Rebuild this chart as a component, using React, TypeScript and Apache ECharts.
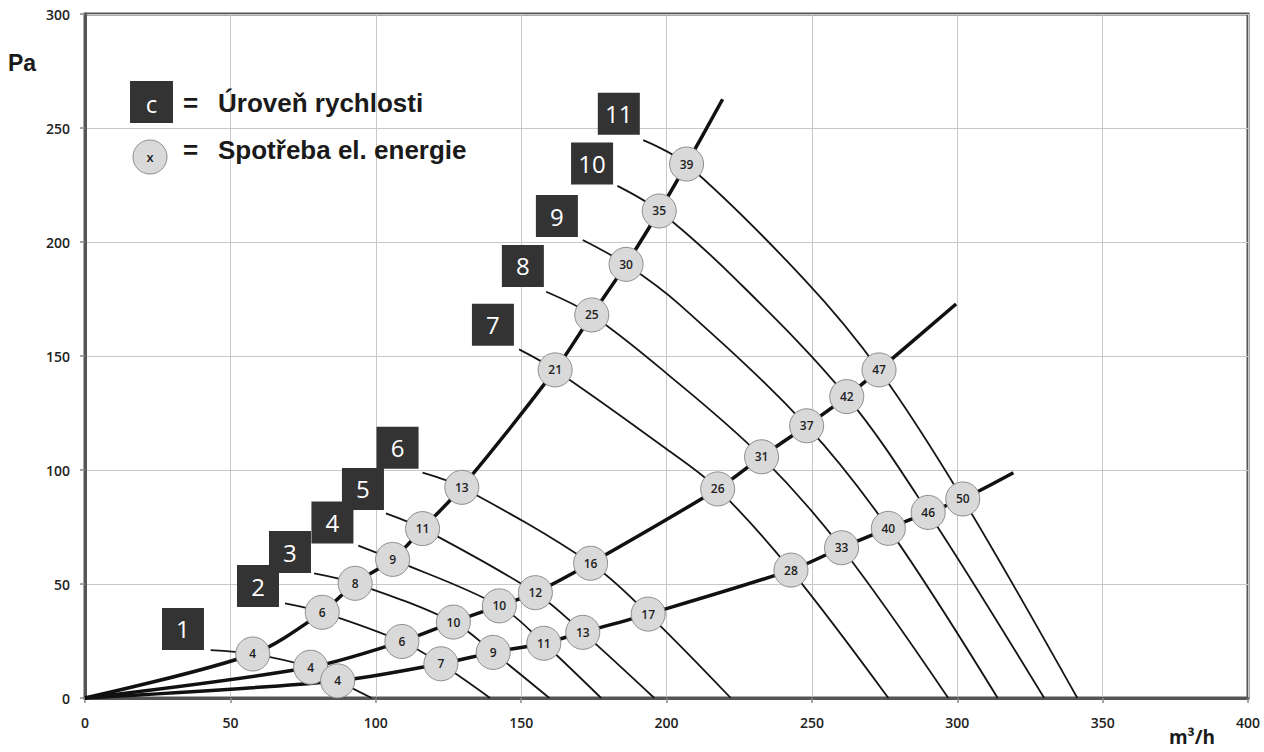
import React, { useEffect, useRef } from "react";
import * as echarts from "echarts";

// Speed levels (labels of the dark boxes)
const levels = ["1", "2", "3", "4", "5", "6", "7", "8", "9", "10", "11"];

// System curve A (steepest)
const flowA = [57.7, 81.6, 92.9, 105.8, 116.1, 129.6, 161.7, 174.3, 186.1, 197.5, 206.9];
const presA = [19.3, 37.6, 50.3, 60.8, 74.3, 92.4, 143.9, 168.0, 190.2, 213.6, 234.2];
const powerA = [4, 6, 8, 9, 11, 13, 21, 25, 30, 35, 39];
const endA = [219.3, 262.6];

// System curve B (middle)
const flowB = [77.6, 109.0, 126.7, 142.5, 154.9, 173.9, 217.6, 232.7, 248.2, 262.0, 273.1];
const presB = [13.5, 24.8, 33.3, 40.4, 46.2, 59.1, 91.7, 105.8, 119.4, 132.2, 143.9];
const powerB = [4, 6, 10, 10, 12, 16, 26, 31, 37, 42, 47];
const endB = [299.6, 172.8];

// System curve C (flattest)
const flowC = [86.9, 122.4, 140.4, 157.8, 171.2, 193.7, 242.8, 260.2, 276.3, 290.0, 301.9];
const presC = [7.5, 15.0, 20.0, 24.0, 28.8, 36.8, 56.1, 65.9, 74.4, 81.4, 87.3];
const powerC = [4, 7, 9, 11, 13, 17, 28, 33, 40, 46, 50];
const endC = [319.3, 98.8];

// Fan curves per level: start of leader line, extra read point between A and B, zero-pressure flow
const leadFlow = [43.2, 68.8, 78.8, 94.0, 103.5, 116.1, 149.3, 158.6, 171.2, 183.1, 192.0];
const leadPres = [21.0, 41.5, 54.7, 66.8, 81.0, 98.8, 152.9, 178.2, 200.9, 224.6, 244.7];
const midFlow: (number | null)[] = [null, null, null, null, null, null, 200.0, 200.0, 204.6, 224.1, 247.6];
const midPres: (number | null)[] = [null, null, null, null, null, null, 109.2, 142.4, 172.4, 183.3, 183.3];
const zeroFlow = [98.6, 139.3, 159.7, 177.5, 195.8, 222.1, 276.3, 296.9, 313.9, 329.9, 341.3];

// Level box positions
const boxFlow = [33.7, 59.5, 70.5, 85.1, 95.6, 107.5, 140.3, 150.6, 162.3, 174.4, 183.6];
const boxPres = [30.3, 49.1, 64.0, 77.0, 91.7, 109.8, 163.7, 189.5, 211.4, 234.4, 256.2];

const xTicks = { min: 0, max: 400, interval: 50 };
const yTicks = { min: 0, max: 300, interval: 50 };

function buildOption() {
  const levelSeries = levels.map((lv, i) => {
    const pts: number[][] = [
      [leadFlow[i], leadPres[i]],
      [flowA[i], presA[i]],
    ];
    if (midFlow[i] != null) pts.push([midFlow[i] as number, midPres[i] as number]);
    pts.push([flowB[i], presB[i]], [flowC[i], presC[i]], [zeroFlow[i], 0]);
    return {
      type: "line",
      name: "level" + lv,
      data: pts,
      smooth: 0.35,
      symbol: "none",
      silent: true,
      lineStyle: { color: "#151515", width: 1.8 },
      z: 2,
    };
  });

  const sys = [
    { f: flowA, p: presA, e: endA },
    { f: flowB, p: presB, e: endB },
    { f: flowC, p: presC, e: endC },
  ].map((c, k) => ({
    type: "line",
    name: "system" + k,
    data: [[0, 0], ...c.f.map((f, i) => [f, c.p[i]]), c.e],
    smooth: 0.3,
    symbol: "none",
    silent: true,
    lineStyle: { color: "#111", width: 3.5 },
    z: 3,
  }));

  const circleData: any[] = [];
  [
    { f: flowA, p: presA, w: powerA },
    { f: flowB, p: presB, w: powerB },
    { f: flowC, p: presC, w: powerC },
  ].forEach((c) => {
    c.f.forEach((f, i) => circleData.push([f, c.p[i], c.w[i]]));
  });

  const circles = {
    type: "scatter",
    data: circleData,
    symbol: "circle",
    symbolSize: 34,
    itemStyle: { color: "#d9d9d9", borderColor: "#8c8c8c", borderWidth: 1, opacity: 1 },
    label: {
      show: true,
      position: "inside",
      formatter: (p: any) => String(p.value[2]),
      color: "#1e1e1e",
      fontSize: 12,
      fontWeight: 600,
      fontFamily: "Open Sans",
    },
    silent: true,
    z: 4,
  };

  const boxes = {
    type: "scatter",
    data: levels.map((lv, i) => [boxFlow[i], boxPres[i], lv]),
    symbol: "rect",
    symbolSize: 42,
    itemStyle: { color: "#333333", opacity: 1 },
    label: {
      show: true,
      position: "inside",
      formatter: (p: any) => String(p.value[2]),
      color: "#fff",
      fontSize: 24,
      fontWeight: 500,
      fontFamily: "Open Sans",
    },
    silent: true,
    z: 5,
  };

  const axisCommon = {
    type: "value",
    axisLine: { show: true, onZero: false, lineStyle: { color: "#555", width: 3 } },
    axisTick: { show: true, length: 5, lineStyle: { color: "#888", width: 1.5 } },
    splitLine: { show: true, lineStyle: { color: "#c8c8c8", width: 1 } },
  };

  return {
    animation: false,
    backgroundColor: "#fff",
    grid: {
      left: 85,
      right: 16,
      top: 14,
      bottom: 54,
      show: true,
      borderColor: "#555",
      borderWidth: 3,
      backgroundColor: "#fff",
    },
    xAxis: {
      ...axisCommon,
      ...xTicks,
      axisLabel: { margin: 17, fontSize: 14, color: "#222", fontFamily: "Open Sans", fontWeight: 600 },
    },
    yAxis: {
      ...axisCommon,
      ...yTicks,
      axisLabel: { margin: 15, fontSize: 14, color: "#222", fontFamily: "Open Sans", fontWeight: 600 },
    },
    graphic: [
      { type: "rect", shape: { x: 130, y: 81, width: 43, height: 42 }, style: { fill: "#333" }, z: 10 },
      {
        type: "text",
        x: 151.5,
        y: 103,
        style: { text: "c", fill: "#fff", font: "500 24px 'Open Sans'", textAlign: "center", textVerticalAlign: "middle" },
        z: 11,
      },
      { type: "circle", shape: { cx: 150, cy: 157, r: 17 }, style: { fill: "#d9d9d9", stroke: "#8c8c8c", lineWidth: 1 }, z: 10 },
      {
        type: "text",
        x: 150,
        y: 157,
        style: { text: "x", fill: "#222", font: "600 13px 'Open Sans'", textAlign: "center", textVerticalAlign: "middle" },
        z: 11,
      },
      {
        type: "text",
        x: 183,
        y: 103,
        style: { text: "=", fill: "#1a1a1a", font: "bold 26px 'Liberation Sans'", textAlign: "left", textVerticalAlign: "middle" },
        z: 11,
      },
      {
        type: "text",
        x: 218,
        y: 103,
        style: { text: "Úroveň rychlosti", fill: "#1a1a1a", font: "bold 26px 'Liberation Sans'", textAlign: "left", textVerticalAlign: "middle" },
        z: 11,
      },
      {
        type: "text",
        x: 183,
        y: 150,
        style: { text: "=", fill: "#1a1a1a", font: "bold 26px 'Liberation Sans'", textAlign: "left", textVerticalAlign: "middle" },
        z: 11,
      },
      {
        type: "text",
        x: 218,
        y: 150,
        style: { text: "Spotřeba el. energie", fill: "#1a1a1a", font: "bold 26px 'Liberation Sans'", textAlign: "left", textVerticalAlign: "middle" },
        z: 11,
      },
      {
        type: "text",
        x: 22,
        y: 63,
        style: { text: "Pa", fill: "#1a1a1a", font: "bold 23px 'Liberation Sans'", textAlign: "center", textVerticalAlign: "middle" },
        z: 11,
      },
      {
        type: "text",
        x: 1192,
        y: 737,
        style: { text: "m³/h", fill: "#1a1a1a", font: "bold 19px 'Open Sans'", textAlign: "center", textVerticalAlign: "middle" },
        z: 11,
      },
    ],
    series: [...levelSeries, ...sys, circles, boxes],
  };
}

export default function App() {
  const ref = useRef<HTMLDivElement>(null);
  useEffect(() => {
    if (!ref.current) return;
    const chart = echarts.init(ref.current, null, { renderer: "svg" });
    chart.setOption(buildOption() as any);
    return () => chart.dispose();
  }, []);
  return (
    <div
      ref={ref}
      style={{ position: "fixed", left: 0, top: 0, width: 1264, height: 752, background: "#fff" }}
    />
  );
}
